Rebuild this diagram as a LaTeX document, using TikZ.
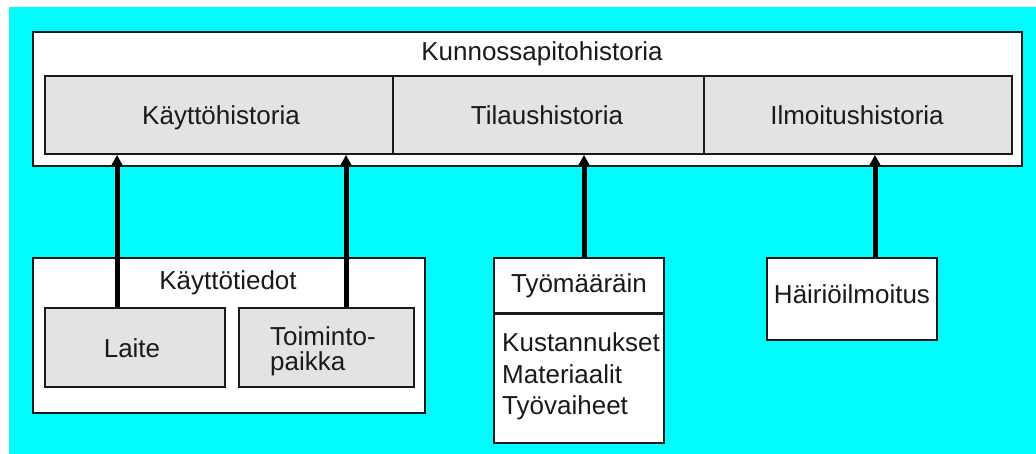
\documentclass[tikz,border=0pt]{standalone}
\usepackage{fontspec}
\setmainfont{Liberation Sans}
\usetikzlibrary{arrows.meta}
\definecolor{bgcyan}{HTML}{00FCFC}
\definecolor{boxgray}{HTML}{E3E3E3}
\definecolor{ink}{HTML}{1A1A1A}
\begin{document}
\begin{tikzpicture}[x=1pt,y=-1pt,
  box/.style={draw=ink, line width=1.8pt, fill=white, inner sep=0pt, anchor=north west},
  gbox/.style={box, fill=boxgray},
  lbl/.style={font=\fontsize{26}{31}\selectfont, text=ink, inner sep=0pt, anchor=base},
  lblw/.style={lbl, anchor=base west},
  conn/.style={line width=5pt, draw=black, -{Triangle[width=11pt,length=11pt]}}]
\useasboundingbox (0,0) rectangle (1036,454);
\fill[white] (0,0) rectangle (1036,454);
\fill[bgcyan] (9,7) rectangle (1036,454);
% top group
\node[box, minimum width=989pt, minimum height=134pt] (outer) at (32,31) {};
\node[gbox, minimum width=348pt, minimum height=78pt] (kh) at (44,75) {};
\node[gbox, minimum width=311pt, minimum height=78pt] (th) at (392,75) {};
\node[gbox, minimum width=308pt, minimum height=78pt] (ih) at (703,75) {};
\node[lbl] (tKun) at (542,61) {Kunnossapitohistoria};
\node[lbl] (tKh) at (221,125) {Käyttöhistoria};
\node[lbl] (tTh) at (547,125) {Tilaushistoria};
\node[lbl] (tIh) at (857,125) {Ilmoitushistoria};
% Käyttötiedot
\node[box, minimum width=392pt, minimum height=155pt] (ktd) at (32,257) {};
\node[lbl] (tKtd) at (228,290) {Käyttötiedot};
\node[gbox, minimum width=180pt, minimum height=79pt] (laite) at (44,307) {};
\node[gbox, minimum width=175pt, minimum height=79pt] (tp) at (238,307) {};
\node[lbl] (tLaite) at (132,357) {Laite};
\node[lblw] (tTp1) at (270,345) {Toiminto-};
\node[lblw] (tTp2) at (270,370) {paikka};
% Työmääräin
\node[box, minimum width=170pt, minimum height=55pt] (tm) at (493,257) {};
\node[box, minimum width=170pt, minimum height=130pt] (tmb) at (493,312) {};
\draw[ink, line width=3pt] (tm.south west) -- (tm.south east);
\node[lbl] (tTm) at (579,293) {Työmääräin};
\node[lblw] (tK1) at (502,352) {Kustannukset};
\node[lblw] (tK2) at (502,383) {Materiaalit};
\node[lblw] (tK3) at (502,414) {Työvaiheet};
% Häiriöilmoitus
\node[box, minimum width=170pt, minimum height=82pt] (hi) at (766,257) {};
\node[lbl] (tHi) at (852,304) {Häiriöilmoitus};
% connectors
\coordinate (a1) at (117,0);
\coordinate (a2) at (346,0);
\coordinate (a3) at (584,0);
\coordinate (a4) at (875,0);
\draw[conn] (laite.north -| a1) -- (kh.south -| a1);
\draw[conn] (tp.north -| a2) -- (kh.south -| a2);
\draw[conn] (tm.north -| a3) -- (th.south -| a3);
\draw[conn] (hi.north -| a4) -- (ih.south -| a4);
\end{tikzpicture}
\end{document}
